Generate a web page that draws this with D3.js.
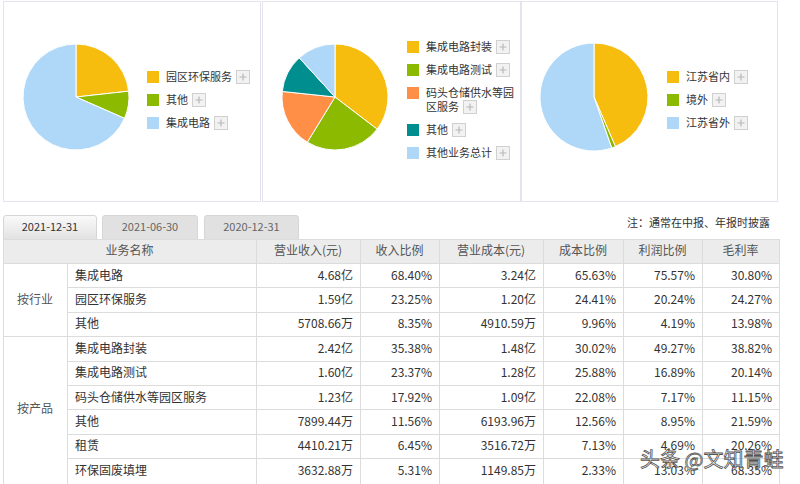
<!DOCTYPE html>
<html><head><meta charset="utf-8">
<script src="https://cdn.jsdelivr.net/npm/d3@7"></script>
<style>
body{margin:0;background:#fff;}
svg{display:block;font-family:"Noto Sans CJK SC","Noto Sans",sans-serif;}
</style></head>
<body><svg id="c" width="800" height="484"></svg>
<script>
// ---- data ----
const pie1Labels = ["园区环保服务","其他","集成电路"];
const pie1Values = [23.25, 8.35, 68.40];
const pie2Labels = ["集成电路封装","集成电路测试","码头仓储供水等园区服务","其他","其他业务总计"];
const pie2Values = [35.38, 23.37, 17.92, 11.56, 11.77];
const pie3Labels = ["江苏省内","境外","江苏省外"];
const pie3Values = [43.5, 1.2, 55.3];
const pie1Colors = ["#F6BD0F","#8BBA00","#AFD8F8"];
const pie2Colors = ["#F6BD0F","#8BBA00","#FF8E46","#008E8E","#AFD8F8"];
const pie3Colors = ["#F6BD0F","#8BBA00","#AFD8F8"];

const tabLabels = ["2021-12-31","2021-06-30","2020-12-31"];
const note = "注：通常在中报、年报时披露";
const headers = ["业务名称","营业收入(元)","收入比例","营业成本(元)","成本比例","利润比例","毛利率"];
const groups = ["按行业","按产品"];
const groupSizes = [3, 6];
const rowNames = ["集成电路","园区环保服务","其他","集成电路封装","集成电路测试","码头仓储供水等园区服务","其他","租赁","环保固废填埋"];
const revenue = ["4.68亿","1.59亿","5708.66万","2.42亿","1.60亿","1.23亿","7899.44万","4410.21万","3632.88万"];
const revRatio = ["68.40%","23.25%","8.35%","35.38%","23.37%","17.92%","11.56%","6.45%","5.31%"];
const cost = ["3.24亿","1.20亿","4910.59万","1.48亿","1.28亿","1.09亿","6193.96万","3516.72万","1149.85万"];
const costRatio = ["65.63%","24.41%","9.96%","30.02%","25.88%","22.08%","12.56%","7.13%","2.33%"];
const profitRatio = ["75.57%","20.24%","4.19%","49.27%","16.89%","7.17%","8.95%","4.69%","13.03%"];
const margin = ["30.80%","24.27%","13.98%","38.82%","20.14%","11.15%","21.59%","20.26%","68.35%"];
const watermark = "头条 @文知青蛙";

// ---- drawing ----
const svg = d3.select("#c");

// panels
const panels = [[3,261],[262,521],[521,778]];
panels.forEach(p=>{
  svg.append("rect").attr("x",p[0]+0.5).attr("y",1.5).attr("width",p[1]-p[0]-1).attr("height",200)
    .attr("fill","#fff").attr("stroke","#e4e4ee").attr("stroke-width",1);
});

function drawPie(cx, cy, r, labels, values, colors, lx, ly0, rowGaps){
  const pie = d3.pie().sort(null).value(d=>d)(values);
  const arc = d3.arc().innerRadius(0).outerRadius(r);
  const g = svg.append("g").attr("transform",`translate(${cx},${cy})`);
  g.selectAll("path").data(pie).join("path")
    .attr("d",arc).attr("fill",(d,i)=>colors[i])
    .attr("stroke","#fff").attr("stroke-width",1);
  // legend
  let y = ly0;
  labels.forEach((lab,i)=>{
    const lg = svg.append("g").attr("transform",`translate(${lx},${y})`);
    lg.append("rect").attr("x",0).attr("y",-6).attr("width",12).attr("height",12).attr("fill",colors[i]);
    const t = lg.append("text").attr("x",19).attr("y",4).attr("font-size",11).attr("fill","#333");
    // wrap
    const maxW = 88;
    let lines = [""];
    for (const ch of lab){
      const test = lines[lines.length-1]+ch;
      t.text(test);
      if (t.node().getComputedTextLength() > maxW && lines[lines.length-1].length>0){ lines.push(ch); }
      else lines[lines.length-1] = test;
    }
    t.text(null);
    lines.forEach((ln,k)=>{
      t.append("tspan").attr("x",19).attr("dy",k===0?0:14).text(ln);
    });
    const lastW = (()=>{ const tmp = lg.append("text").attr("font-size",11).text(lines[lines.length-1]); const w=tmp.node().getComputedTextLength(); tmp.remove(); return w;})();
    const by = (lines.length-1)*14;
    const bx = 19 + lastW + 4;
    lg.append("rect").attr("x",bx+0.5).attr("y",by-6.5).attr("width",13).attr("height",13)
      .attr("fill","#f2f2f2").attr("stroke","#d0d0d0");
    lg.append("path").attr("d",`M${bx+3.5},${by}H${bx+10.5}M${bx+7},${by-3.5}V${by+3.5}`)
      .attr("stroke","#b8b8b8").attr("stroke-width",1.2);
    y += 23 + (lines.length-1)*14;
  });
}
drawPie(76, 97, 53, pie1Labels, pie1Values, pie1Colors, 147, 77);
drawPie(335, 97, 53, pie2Labels, pie2Values, pie2Colors, 407, 47);
drawPie(594, 97, 54, pie3Labels, pie3Values, pie3Colors, 667, 77);

// tabs
const defs = svg.append("defs");
const gr = defs.append("linearGradient").attr("id","tabg").attr("x1",0).attr("y1",0).attr("x2",0).attr("y2",1);
gr.append("stop").attr("offset","0%").attr("stop-color","#fafafa");
gr.append("stop").attr("offset","100%").attr("stop-color","#e2e2e2");
const tabX = [[3,97],[102,198],[204,299]];
tabLabels.forEach((t,i)=>{
  const [x0,x1] = tabX[i];
  svg.append("path")
    .attr("d",`M${x0+0.5},239 V${218} Q${x0+0.5},215.5 ${x0+3},215.5 H${x1-3} Q${x1-0.5},215.5 ${x1-0.5},218 V239`)
    .attr("fill", i===0?"url(#tabg)":"#e1e1e1").attr("stroke","#d6d6d6");
  svg.append("text").attr("x",(x0+x1)/2).attr("y",231).attr("text-anchor","middle")
    .attr("font-size",11).attr("fill", i===0?"#333":"#666").text(t);
});
svg.append("text").attr("x",770).attr("y",227).attr("text-anchor","end").attr("font-size",11)
  .attr("fill","#333").text(note);

// table
const colX = [3,67,256,360,439,543,623,702,779];
const headTop = 239, headH = 24, rowH = 24.4;
const nRows = rowNames.length;
const tableBottom = 484;
svg.append("rect").attr("x",3).attr("y",headTop).attr("width",779-3).attr("height",headH).attr("fill","#ececec");
// header texts
const headCenters = [(colX[0]+colX[2])/2];
for (let c=2;c<8;c++) headCenters.push((colX[c]+colX[c+1])/2);
headers.forEach((h,i)=>{
  svg.append("text").attr("x",headCenters[i]).attr("y",headTop+16).attr("text-anchor","middle")
    .attr("font-size",12).attr("fill","#555").text(h);
});
const lineC = "#dcdcdc";
// horizontal lines
svg.append("line").attr("x1",3).attr("x2",779).attr("y1",headTop+0.5).attr("y2",headTop+0.5).attr("stroke",lineC);
svg.append("line").attr("x1",3).attr("x2",779).attr("y1",headTop+headH+0.5).attr("y2",headTop+headH+0.5).attr("stroke",lineC);
const bodyTop = headTop+headH;
let gStart = 0;
groups.forEach((g,gi)=>{
  const n = groupSizes[gi];
  const y0 = bodyTop + gStart*rowH, y1 = bodyTop + (gStart+n)*rowH;
  svg.append("text").attr("x",(colX[0]+colX[1])/2).attr("y",(y0+y1)/2+4).attr("text-anchor","middle")
    .attr("font-size",12).attr("fill","#555").text(g);
  if (gi < groups.length-1)
    svg.append("line").attr("x1",3).attr("x2",779).attr("y1",Math.round(y1)+0.5).attr("y2",Math.round(y1)+0.5).attr("stroke",lineC);
  gStart += n;
});
const cols = [revenue, revRatio, cost, costRatio, profitRatio, margin];
rowNames.forEach((nm,r)=>{
  const y0 = bodyTop + r*rowH;
  const yl = Math.round(y0+rowH)+0.5;
  if (r < nRows-1) svg.append("line").attr("x1",67).attr("x2",779).attr("y1",yl).attr("y2",yl).attr("stroke",lineC);
  svg.append("text").attr("x",75).attr("y",y0+16.5).attr("font-size",12).attr("fill","#333").text(nm);
  cols.forEach((arr,c)=>{
    svg.append("text").attr("x",colX[c+3]-7).attr("y",y0+16.5).attr("text-anchor","end")
      .attr("font-size",12).attr("fill","#333").text(arr[r]);
  });
});
// vertical lines
colX.forEach((x,i)=>{
  const yTop = (i===1) ? bodyTop : headTop;
  svg.append("line").attr("x1",x+0.5).attr("x2",x+0.5).attr("y1",yTop).attr("y2",tableBottom).attr("stroke",lineC);
});

// watermark
svg.append("text").attr("x",640).attr("y",467).attr("font-size",20).attr("fill","#fff")
  .attr("stroke","#555").attr("stroke-width",0.8).text(watermark);
</script></body></html>
